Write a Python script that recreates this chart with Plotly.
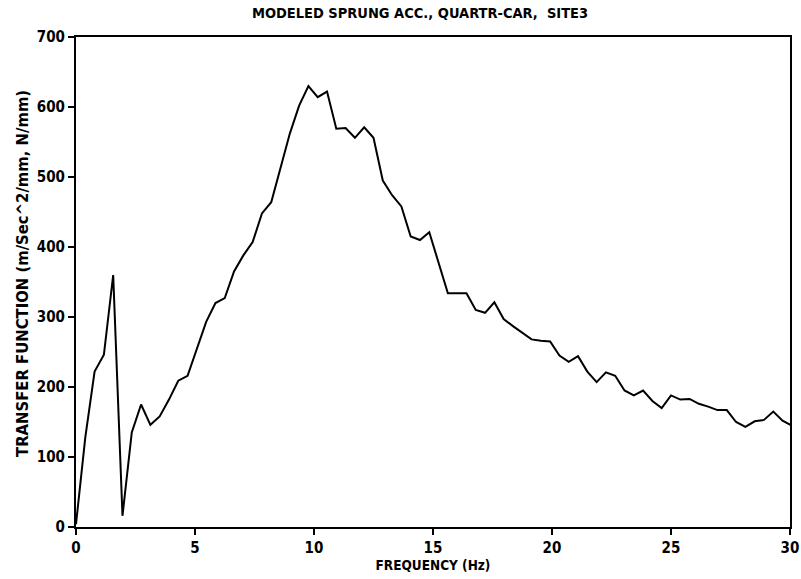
import plotly.graph_objects as go

df = 0.390625
values = [4, 128, 222, 246, 360, 16, 135, 175, 146, 158,
          182, 209, 216, 256, 293, 320, 327, 365, 388, 407,
          448, 464, 514, 562, 602, 630, 614, 622, 569, 570,
          556, 571, 556, 495, 474, 458, 415, 410, 421, 377,
          334, 334, 334, 310, 306, 321, 297, 287, 277, 268,
          266, 265, 245, 236, 244, 222, 207, 221, 216, 195,
          188, 195, 180, 170, 188, 182, 183, 176, 172, 167,
          167, 150, 143, 151, 153, 165, 152, 145]
freq = [i * df for i in range(len(values))]

title_text = "MODELED SPRUNG ACC., QUARTR-CAR,  SITE3"
x_title = "FREQUENCY (Hz)"
y_title = "TRANSFER FUNCTION (m/Sec^2/mm, N/mm)"
x_ticks = [0, 5, 10, 15, 20, 25, 30]
y_ticks = [0, 100, 200, 300, 400, 500, 600, 700]

FONT = "DejaVu Sans Condensed, DejaVu Sans, sans-serif"

fig = go.Figure(go.Scatter(x=freq, y=values, mode="lines",
                           line=dict(color="black", width=2)))

fig.update_layout(
    width=801, height=579,
    margin=dict(l=76, r=11, t=37, b=52),
    paper_bgcolor="white", plot_bgcolor="white",
    showlegend=False,
    font=dict(family=FONT, color="black", size=13),
    title=dict(text=title_text, x=420 / 801, xanchor="center",
               y=1 - 13 / 579, yanchor="middle",
               font=dict(size=14.5, weight="bold", family=FONT)),
)
common = dict(ticks="outside", ticklen=6, tickwidth=1.5, tickcolor="black",
              showline=True, linecolor="black", linewidth=2, mirror=True,
              showgrid=False, zeroline=False, automargin=False,
              tickfont=dict(size=15, weight="bold", family=FONT))
fig.update_xaxes(range=[0, 30], tickvals=x_ticks, **common,
                 title=dict(text=x_title, font=dict(size=13.5, weight="bold", family=FONT),
                            standoff=2))
fig.update_yaxes(range=[0, 700], tickvals=y_ticks, **common)

fig.add_annotation(text=y_title, xref="paper", yref="paper",
                   x=(22 - 76) / 714, y=(527 - 274) / 490,
                   xanchor="center", yanchor="middle", textangle=-90,
                   showarrow=False,
                   font=dict(size=16.5, weight="bold", family=FONT, color="black"))

fig.write_html("out.html")
